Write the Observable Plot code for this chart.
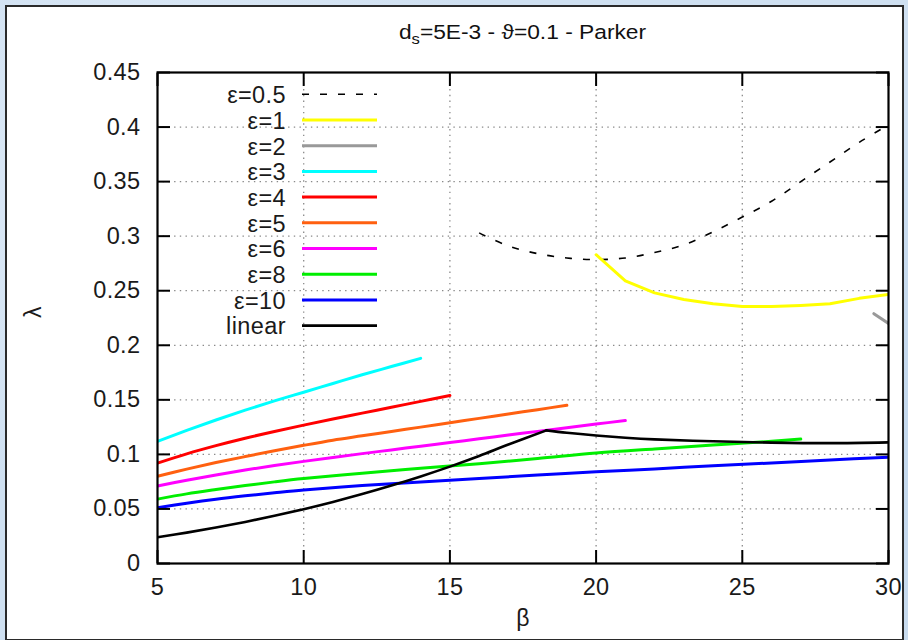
<!DOCTYPE html>
<html><head><meta charset="utf-8">
<script src="https://cdn.jsdelivr.net/npm/d3@7"></script>
<script src="https://cdn.jsdelivr.net/npm/@observablehq/plot@0.6"></script>
<style>
html,body{margin:0;padding:0;}
body{width:908px;height:640px;overflow:hidden;position:relative;
  background:#cfe0f1;
  background-image:radial-gradient(circle at 20% 30%, #e2edf8 0, transparent 40%),radial-gradient(circle at 80% 70%, #bcd3ea 0, transparent 45%);
  font-family:"Liberation Sans",Arial,sans-serif;}
#panel{position:absolute;left:5px;top:5px;width:899px;height:636px;background:#fff;border:2px solid #2a2a2a;box-sizing:border-box;}
#title{position:absolute;left:157px;width:731px;top:20px;text-align:center;font-size:20.5px;color:#111;line-height:24px;transform:scaleX(1.11);transform-origin:50% 50%;}
#title sub{font-size:15px;vertical-align:-5px;line-height:0;}
#chart{position:absolute;left:0;top:50px;}
svg text{letter-spacing:0.4px;}
</style></head><body>
<div id="panel"></div>
<div id="title">d<sub>s</sub>=5E-3 - ϑ=0.1 - Parker</div>
<div id="chart"></div>
<script>
// Axis ticks
const xTicks = [5, 10, 15, 20, 25, 30];
const yTicks = [0, 0.05, 0.1, 0.15, 0.2, 0.25, 0.3, 0.35, 0.4, 0.45];

// Series names and colours
const names  = ["ε=0.5", "ε=1", "ε=2", "ε=3", "ε=4", "ε=5", "ε=6", "ε=8", "ε=10", "linear"];
const colors = ["#000000", "#ffff00", "#999999", "#00ffff", "#ff0000", "#ff6010", "#ff00ff", "#00ee00", "#0000ff", "#000000"];

// Series values (β, λ)
const eps05_b = [16, 17, 18, 19, 20, 21, 22, 23, 24, 25, 26, 27, 28, 29, 30];
const eps05_l = [0.303, 0.291, 0.284, 0.280, 0.2785, 0.280, 0.285, 0.292, 0.304, 0.3175, 0.332, 0.350, 0.368, 0.386, 0.402];

const eps1_b = [20, 21, 22, 23, 24, 25, 26, 27, 28, 29, 30];
const eps1_l = [0.283, 0.259, 0.248, 0.242, 0.238, 0.2355, 0.2355, 0.2365, 0.238, 0.243, 0.2465];

const eps2_b = [29.5, 30];
const eps2_l = [0.229, 0.220];

const eps3_b = [5, 6, 7, 8, 9, 10, 11, 12, 13, 14];
const eps3_l = [0.112, 0.122, 0.1315, 0.1405, 0.149, 0.157, 0.165, 0.173, 0.1805, 0.188];

const eps4_b = [5, 6, 7, 8, 9, 10, 11, 12, 13, 14, 15];
const eps4_l = [0.092, 0.1005, 0.108, 0.1148, 0.121, 0.1268, 0.1324, 0.1378, 0.1432, 0.1486, 0.154];

const eps5_b = [5, 6, 7, 8, 9, 10, 11, 12, 13, 14, 15, 16, 17, 18, 19];
const eps5_l = [0.080, 0.0865, 0.0925, 0.098, 0.1033, 0.1083, 0.113, 0.117, 0.121, 0.125, 0.129, 0.133, 0.137, 0.141, 0.145];

const eps6_b = [5, 6, 7, 8, 9, 10, 11, 12, 13, 14, 15, 16, 17, 18, 19, 20, 21];
const eps6_l = [0.071, 0.0763, 0.0812, 0.0857, 0.0898, 0.0936, 0.0972, 0.1007, 0.1041, 0.1075, 0.1109, 0.1143, 0.1177, 0.1211, 0.1245, 0.1278, 0.131];

const eps8_b = [5, 6, 7, 8, 9, 10, 12, 14, 16, 18, 20, 22, 24, 26, 27];
const eps8_l = [0.059, 0.0638, 0.0678, 0.0715, 0.0748, 0.0778, 0.0828, 0.0872, 0.0915, 0.0962, 0.1012, 0.105, 0.1085, 0.112, 0.114];

const eps10_b = [5, 6, 7, 8, 9, 10, 12, 14, 16, 18, 20, 22, 24, 26, 28, 30];
const eps10_l = [0.051, 0.0552, 0.0589, 0.062, 0.0648, 0.0674, 0.0715, 0.0748, 0.078, 0.081, 0.084, 0.0867, 0.0895, 0.0922, 0.0948, 0.0975];

const linear_b = [5, 6, 7, 8, 9, 10, 11, 12, 13, 14, 15, 16, 17, 18.3, 19, 20, 21, 22, 24, 26, 28, 30];
const linear_l = [0.024, 0.0283, 0.033, 0.0381, 0.0437, 0.0498, 0.0564, 0.0636, 0.0714, 0.0798, 0.0888, 0.0985, 0.109, 0.122, 0.1198, 0.1173, 0.1153, 0.1138, 0.112, 0.1108, 0.1103, 0.111];

const allB = [eps05_b, eps1_b, eps2_b, eps3_b, eps4_b, eps5_b, eps6_b, eps8_b, eps10_b, linear_b];
const allL = [eps05_l, eps1_l, eps2_l, eps3_l, eps4_l, eps5_l, eps6_l, eps8_l, eps10_l, linear_l];

const rows = (i) => allB[i].map((b, j) => ({b, l: allL[i][j]}));
const widthOf = (i) => i === 0 ? 1.6 : (i === 9 ? 2.6 : 3);

const lineMarks = [];
names.forEach((n, i) => {
  const data = rows(i);
  const opts = {
    x: "b", y: "l",
    stroke: colors[i],
    strokeWidth: widthOf(i),
    strokeDasharray: i === 0 ? "7,11" : null,
    strokeLinecap: i === 0 ? "butt" : "round",
    curve: i === 1 ? "linear" : "catmull-rom",
    clip: true
  };
  if (i === 9) {
    // keep the sharp peak of the linear curve: smooth each side separately
    const k = d3.maxIndex(data, d => d.l);
    lineMarks.push(Plot.line(data.slice(0, k + 1), opts));
    lineMarks.push(Plot.line(data.slice(k), opts));
  } else {
    lineMarks.push(Plot.line(data, opts));
  }
});

const grid = {stroke: "#8a8a8a", strokeOpacity: 1, strokeWidth: 1.3, strokeDasharray: "1.4,4.3"};
const tickOpts = {tickSize: -13, fill: "none", label: null, strokeWidth: 2};

const plot = Plot.plot({
  width: 908,
  height: 590,
  marginLeft: 157,
  marginRight: 20,
  marginTop: 22,
  marginBottom: 77,
  style: {fontFamily: "'Liberation Sans', Arial, sans-serif", background: "transparent", overflow: "visible"},
  x: {domain: [5, 30]},
  y: {domain: [0, 0.45]},
  marks: [
    Plot.gridX(xTicks.slice(1, -1), grid),
    Plot.gridY(yTicks.slice(1, -1), grid),
    ...lineMarks,
    Plot.axisX(xTicks, {anchor: "bottom", tickSize: 0, tickPadding: 15, fontSize: 23.5, fill: "#1a1a1a", label: null, tickFormat: d => String(d)}),
    Plot.axisY(yTicks, {anchor: "left", tickSize: 0, tickPadding: 17, fontSize: 23.5, fill: "#1a1a1a", label: null, tickFormat: d => String(d)}),
    Plot.axisX(xTicks, {anchor: "bottom", ...tickOpts}),
    Plot.axisX(xTicks, {anchor: "top", ...tickOpts}),
    Plot.axisY(yTicks, {anchor: "left", ...tickOpts}),
    Plot.axisY(yTicks, {anchor: "right", ...tickOpts}),
    Plot.frame({stroke: "#000", strokeWidth: 2.2}),
    Plot.text(["λ"], {frameAnchor: "left", dx: -124, rotate: -90, fontSize: 23, fill: "#1a1a1a"}),
    Plot.text(["β"], {frameAnchor: "bottom", dy: 62, fontSize: 23, fill: "#1a1a1a"})
  ]
});

document.getElementById("chart").appendChild(plot);

// Legend (inside plot, top-left)
const svg = d3.select(plot);
const lg = svg.append("g").attr("font-size", 23.5).attr("font-family", "'Liberation Sans', Arial, sans-serif");
names.forEach((n, i) => {
  const yy = 44.3 + i * 25.7;
  lg.append("text").attr("x", 286).attr("y", yy + 8.8).attr("text-anchor", "end").attr("fill", "#1a1a1a").text(n);
  lg.append("line").attr("x1", 302).attr("x2", 377).attr("y1", yy).attr("y2", yy)
    .attr("stroke", colors[i])
    .attr("stroke-width", widthOf(i))
    .attr("stroke-dasharray", i === 0 ? "7,11" : null);
});
</script></body></html>
